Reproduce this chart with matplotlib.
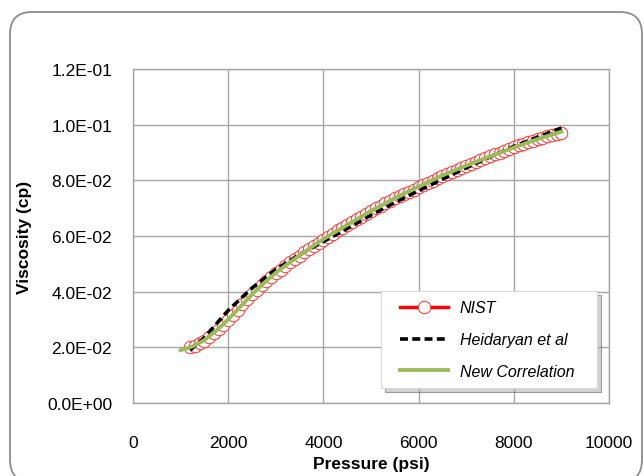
import matplotlib
matplotlib.use("Agg")
import matplotlib.pyplot as plt
import matplotlib.ticker as mticker
from matplotlib.patches import FancyBboxPatch, Rectangle, Shadow

plt.rcParams["font.family"] = ["Liberation Sans", "DejaVu Sans"]

# NIST data, every 100 psi from 1200 to 9000
NIST_P = list(range(1200, 9001, 100))
NIST_V = [
    0.0200, 0.0206, 0.0214, 0.0224, 0.0236, 0.0250, 0.0265, 0.0282, 0.0300,
    0.0318, 0.0336, 0.0354, 0.0372, 0.0390, 0.0407, 0.0423, 0.0438, 0.0452,
    0.0466, 0.0479, 0.0492, 0.0505, 0.0517, 0.0529, 0.0541, 0.0553, 0.0565,
    0.0576, 0.0587, 0.0598, 0.0609, 0.0620, 0.0630, 0.0640, 0.0650, 0.0660,
    0.0670, 0.0680, 0.0690, 0.0699, 0.0708, 0.0717, 0.0726, 0.0735, 0.0743,
    0.0751, 0.0759, 0.0767, 0.0775, 0.0783, 0.0791, 0.0799, 0.0807, 0.0815,
    0.0822, 0.0830, 0.0837, 0.0844, 0.0851, 0.0858, 0.0865, 0.0872, 0.0879,
    0.0886, 0.0893, 0.0900, 0.0907, 0.0913, 0.0920, 0.0926, 0.0932, 0.0937,
    0.0943, 0.0948, 0.0953, 0.0958, 0.0962, 0.0966, 0.0970,
]

# Heidaryan et al correlation
HEID_P = [1200, 1500, 2000, 2500, 3000, 3500, 4000, 4500, 5000, 5500,
          6000, 6500, 7000, 7500, 8000, 8500, 9000]
HEID_V = [0.0190, 0.0235, 0.0333, 0.0413, 0.0480, 0.0533, 0.0580, 0.0627,
          0.0675, 0.0720, 0.0763, 0.0804, 0.0845, 0.0884, 0.0922, 0.0955, 0.0988]

# New correlation
NEW_P = [1000, 1250, 1500, 1750, 2000, 2250, 2500, 2750, 3000, 3250, 3500,
         3750, 4000, 4500, 5000, 5500, 6000, 6500, 7000, 7500, 8000, 8500, 9000]
NEW_V = [0.0190, 0.0203, 0.0226, 0.0260, 0.0300, 0.0345, 0.0390, 0.0431,
         0.0468, 0.0500, 0.0530, 0.0560, 0.0589, 0.0640, 0.0690, 0.0736,
         0.0778, 0.0818, 0.0853, 0.0886, 0.0918, 0.0948, 0.0975]

X_TICKS = [0, 2000, 4000, 6000, 8000, 10000]
Y_TICKS = [0.0, 0.02, 0.04, 0.06, 0.08, 0.10, 0.12]

GRID_COLOR = "#a6a6a6"

fig = plt.figure(figsize=(6.44, 4.77), dpi=100)

# rounded chart-area frame (Excel style)
frame = FancyBboxPatch((0.10, -0.06), 6.32, 4.70,
                       boxstyle="round,pad=0,rounding_size=0.22",
                       transform=fig.dpi_scale_trans, facecolor="none",
                       edgecolor="#8c8c8c", linewidth=1.3, zorder=-1)
fig.patches.append(frame)

ax = fig.add_axes([0.2065, 0.1530, 0.7392, 0.7002])
ax.set_facecolor("white")

ax.plot(NIST_P, NIST_V, color="#ff0000", linewidth=2.5, marker="o",
        markersize=9, markerfacecolor="white", markeredgecolor="#ff3030",
        markeredgewidth=0.7, label="NIST", zorder=3)
ax.plot(HEID_P, HEID_V, color="black", linewidth=2.6, linestyle=(0, (2.2, 1.2)),
        label="Heidaryan et al", zorder=4)
ax.plot(NEW_P, NEW_V, color="#9bbb59", linewidth=2.8, label="New Correlation",
        zorder=5)

ax.set_xlim(0, 10000)
ax.set_ylim(0, 0.12)
ax.set_xticks(X_TICKS)
ax.set_yticks(Y_TICKS)
ax.yaxis.set_major_formatter(mticker.FuncFormatter(lambda v, pos: f"{v:.1E}"))
ax.grid(True, color=GRID_COLOR, linewidth=1.0)
ax.set_axisbelow(True)
for side in ax.spines.values():
    side.set_color(GRID_COLOR)
    side.set_linewidth(1.0)
ax.tick_params(axis="both", length=0, labelsize=12.5, colors="black")
ax.tick_params(axis="x", pad=23)
ax.tick_params(axis="y", pad=15)

ax.set_xlabel("Pressure (psi)", fontsize=12.5, fontweight="bold", labelpad=4)
ax.set_ylabel("Viscosity (cp)", fontsize=12.5, fontweight="bold", labelpad=11)

# legend box drawn by hand so its padding matches the Excel one
box = Rectangle((3.81, 0.88), 2.16, 0.97, transform=fig.dpi_scale_trans,
                facecolor="white", edgecolor="#d9d9d9", linewidth=0.8,
                clip_on=False, zorder=6)
shadow = Shadow(box, 0.03, -0.03, facecolor="#a8a8a8", alpha=0.5)
shadow.set_zorder(5.9)
shadow.set_clip_on(False)
ax.add_artist(shadow)
ax.add_artist(box)

leg = ax.legend(loc="upper left", bbox_to_anchor=(0.6211, 0.3685),
                bbox_transform=fig.transFigure, borderaxespad=0, borderpad=0,
                frameon=False, handlelength=3.0, labelspacing=1.06,
                handletextpad=0.75, prop={"style": "italic", "size": 11.5})
leg.set_zorder(7)

fig.savefig("out.png", dpi=100)
plt.close(fig)
